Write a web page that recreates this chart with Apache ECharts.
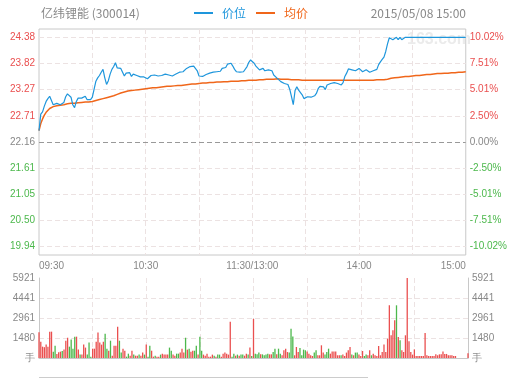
<!DOCTYPE html>
<html><head><meta charset="utf-8">
<script src="https://cdn.jsdelivr.net/npm/echarts@6/dist/echarts.min.js"></script>
<style>html,body{margin:0;padding:0;background:#fff}#c{width:510px;height:378px}</style>
</head><body><div id="c"></div>
<script>
const stockName = '亿纬锂能 (300014)';
const stamp = '2015/05/08 15:00';
const seriesNames = ['价位', '均价'];
const prevClose = 22.16;
const priceTicks = [19.94, 20.50, 21.05, 21.61, 22.16, 22.71, 23.27, 23.82, 24.38];
const priceTickLabels = ['19.94', '20.50', '21.05', '21.61', '22.16', '22.71', '23.27', '23.82', '24.38'];
const pctTickLabels = ['-10.02%', '-7.51%', '-5.01%', '-2.50%', '0.00%', '2.50%', '5.01%', '7.51%', '10.02%'];
const timeTickLabels = {0: '09:30', 60: '10:30', 120: '11:30/13:00', 180: '14:00', 240: '15:00'};
const volMax = 5921;

const price = [
22.40,22.75,22.80,22.92,23.02,23.08,23.13,23.14,22.95,22.93,
22.98,23.00,22.95,22.93,23.00,23.12,23.18,23.17,23.11,22.95,
22.89,23.02,23.09,23.08,23.09,23.11,23.13,23.06,23.10,23.06,
23.11,23.28,23.45,23.52,23.57,23.64,23.70,23.52,23.38,23.46,
23.60,23.70,23.76,23.84,23.73,23.72,23.72,23.71,23.56,23.62,
23.64,23.63,23.55,23.60,23.61,23.57,23.54,23.54,23.55,23.54,
23.54,23.50,23.47,23.57,23.59,23.58,23.57,23.56,23.56,23.57,
23.57,23.60,23.62,23.58,23.56,23.56,23.58,23.60,23.62,23.64,
23.67,23.65,23.69,23.72,23.75,23.76,23.79,23.77,23.74,23.67,
23.56,23.52,23.55,23.58,23.59,23.60,23.62,23.62,23.64,23.65,
23.65,23.65,23.66,23.72,23.73,23.74,23.81,23.83,23.83,23.77,
23.70,23.65,23.65,23.64,23.65,23.65,23.65,23.76,23.85,23.90,
23.88,23.83,23.77,23.74,23.69,23.71,23.72,23.67,23.68,23.69,
23.68,23.67,23.58,23.55,23.51,23.47,23.44,23.42,23.40,23.39,
23.38,23.28,23.12,22.95,23.25,23.33,23.26,23.22,23.16,23.08,
23.10,23.12,23.12,23.11,23.10,23.14,23.19,23.29,23.34,23.38,
23.33,23.27,23.37,23.38,23.40,23.41,23.42,23.44,23.40,23.37,
23.37,23.42,23.55,23.62,23.71,23.67,23.69,23.68,23.67,23.70,
23.72,23.68,23.65,23.67,23.69,23.66,23.64,23.66,23.67,23.65,
23.70,23.80,23.86,23.91,23.96,24.08,24.24,24.37,24.36,24.33,
24.36,24.38,24.33,24.38,24.33,24.37,24.38,24.38,24.38,24.38,
24.38,24.38,24.38,24.38,24.38,24.38,24.38,24.38,24.38,24.38,
24.38,24.38,24.38,24.38,24.38,24.38,24.38,24.38,24.38,24.38,
24.38,24.38,24.38,24.38,24.38,24.38,24.38,24.38,24.38,24.38,
24.38
];

const avgPrice = [
22.40,22.55,22.65,22.73,22.79,22.83,22.87,22.90,22.91,22.92,
22.93,22.94,22.94,22.95,22.95,22.96,22.97,22.97,22.98,22.98,
22.98,22.99,22.99,22.99,23.00,23.00,23.01,23.01,23.01,23.02,
23.02,23.03,23.04,23.05,23.06,23.07,23.08,23.09,23.10,23.11,
23.12,23.13,23.14,23.16,23.17,23.19,23.20,23.21,23.22,23.23,
23.24,23.24,23.25,23.25,23.26,23.26,23.27,23.27,23.28,23.28,
23.29,23.29,23.30,23.30,23.31,23.31,23.31,23.32,23.32,23.32,
23.33,23.33,23.34,23.34,23.34,23.35,23.35,23.35,23.36,23.36,
23.36,23.37,23.37,23.38,23.38,23.38,23.39,23.39,23.39,23.40,
23.40,23.40,23.41,23.41,23.41,23.41,23.42,23.42,23.42,23.42,
23.43,23.43,23.43,23.43,23.44,23.44,23.44,23.44,23.45,23.45,
23.45,23.45,23.45,23.46,23.46,23.46,23.46,23.46,23.47,23.47,
23.47,23.47,23.47,23.48,23.48,23.48,23.48,23.48,23.49,23.49,
23.49,23.49,23.49,23.49,23.50,23.50,23.49,23.49,23.49,23.49,
23.49,23.49,23.48,23.48,23.48,23.48,23.48,23.48,23.47,23.47,
23.47,23.47,23.47,23.47,23.47,23.47,23.47,23.47,23.47,23.47,
23.47,23.47,23.47,23.47,23.47,23.47,23.47,23.47,23.47,23.47,
23.47,23.47,23.47,23.47,23.47,23.47,23.47,23.47,23.47,23.47,
23.47,23.47,23.47,23.47,23.47,23.47,23.47,23.47,23.47,23.48,
23.48,23.48,23.48,23.48,23.48,23.49,23.49,23.50,23.51,23.51,
23.52,23.52,23.53,23.53,23.54,23.54,23.55,23.55,23.55,23.56,
23.56,23.56,23.57,23.57,23.57,23.58,23.58,23.58,23.59,23.59,
23.59,23.60,23.60,23.60,23.61,23.61,23.61,23.61,23.62,23.62,
23.62,23.62,23.63,23.63,23.63,23.63,23.64,23.64,23.64,23.64,
23.65
];

const volume = [
1900,1210,840,800,990,840,1950,1950,470,910,
300,420,470,520,620,1280,1500,840,1360,690,
1580,1580,620,250,250,990,770,250,1140,100,
690,690,1210,1880,1140,990,1210,1800,690,540,
1280,170,910,910,2320,1280,400,690,540,100,
320,170,540,250,170,170,250,170,400,250,
990,100,910,540,100,170,100,100,250,320,
250,250,250,770,540,250,170,320,320,400,
690,400,1500,620,690,470,540,540,910,250,
1580,540,250,170,320,100,100,250,170,100,
250,250,100,320,400,320,250,2690,100,320,
170,250,170,250,250,170,320,250,770,150,
2900,
320,270,400,270,270,200,250,320,270,270,
440,690,270,690,320,200,570,690,440,400,
2170,1600,200,815,440,740,200,620,570,490,
320,200,150,400,570,200,200,940,400,250,
440,690,320,490,490,490,200,200,200,250,
150,400,570,815,250,200,400,400,250,150,
520,150,250,200,570,200,320,200,150,890,
200,440,990,440,1430,3900,1680,2050,2790,3900,
1560,1310,570,440,1680,5921,1235,440,250,640,
150,150,150,150,150,1850,200,150,150,150,
150,270,200,270,270,490,300,300,200,200,
200,150,150,0,0,0,0,0,0,350
];

const volUp = [
1,1,1,1,1,1,1,1,0,0,
1,1,1,0,1,1,1,0,0,0,
0,1,1,0,1,1,1,0,0,0,
1,1,1,1,1,1,1,0,0,1,
0,1,1,1,1,0,0,1,1,0,
0,1,1,0,1,1,0,1,1,0,
1,0,0,1,1,0,1,1,0,1,
1,1,1,0,0,1,1,0,0,1,
1,1,0,1,0,1,1,0,0,1,
0,0,1,1,1,1,1,1,0,1,
0,0,1,1,1,1,1,1,0,0,
1,0,1,0,0,1,1,0,1,0,
1,
0,0,0,1,0,0,0,0,1,1,
0,0,1,0,0,1,1,1,1,0,
0,0,1,1,1,0,0,0,0,1,
1,1,1,0,0,1,1,1,1,0,
0,0,1,1,1,1,1,1,0,1,
1,1,1,1,0,1,0,0,1,1,
1,0,0,1,1,0,1,1,1,1,
1,1,1,1,1,1,1,1,1,0,
1,0,1,1,1,1,1,1,1,1,
1,1,1,1,1,1,1,1,1,1,
1,1,1,1,1,1,1,1,1,1,
1,1,1,1,1,1,1,1,1,1
];

// time categories: 09:30-11:30 and 13:01-15:00
function hm(m) { const h = Math.floor(m / 60), mm = m % 60; return (h < 10 ? '0' : '') + h + ':' + (mm < 10 ? '0' : '') + mm; }
const times = [];
for (let m = 570; m <= 690; m++) times.push(hm(m));
for (let m = 781; m <= 900; m++) times.push(hm(m));

const RED = '#ea4f4f', GREEN = '#4cb84c', GRAY = '#888';
const BLUE = '#1e96dc', ORANGE = '#f0661a';
const GRIDLINE = '#ece2e2';
const FONT = 'Liberation Sans, Arial, sans-serif';

function tickIdx(v) { for (let i = 0; i < priceTicks.length; i++) if (Math.abs(v - priceTicks[i]) < 0.002) return i; return -1; }
function tickColor(v) { return v > prevClose + 0.01 ? RED : (v < prevClose - 0.01 ? GREEN : GRAY); }

const yMin = 19.764, yMax = 24.556;
const volSplit = [volMax / 4, volMax / 2, volMax * 3 / 4];
const volLabels = [0, volMax / 4, volMax / 2, volMax * 3 / 4, volMax];
const vSplit = (i) => i % 30 === 0 && i > 0 && i < times.length - 1;

const chart = echarts.init(document.getElementById('c'), null, {renderer: 'canvas'});
chart.setOption({
  animation: false,
  textStyle: {fontFamily: FONT},
  title: [
    {text: stockName, left: 41, top: 7, padding: 0, textStyle: {fontSize: 12, fontWeight: 'normal', color: GRAY, fontFamily: 'Noto Sans CJK SC'}},
    {text: stamp, right: 44, top: 7, padding: 0, textStyle: {fontSize: 12, fontWeight: 'normal', color: GRAY, fontFamily: 'Noto Sans CJK SC'}}
  ],
  legend: {
    left: 194, top: 7, padding: 0, itemGap: 10, icon: 'rect', itemWidth: 19, itemHeight: 2,
    textStyle: {fontSize: 12, fontFamily: 'Noto Sans CJK SC', padding: [0, 0, 0, 4]},
    data: [
      {name: seriesNames[0], textStyle: {color: BLUE}},
      {name: seriesNames[1], textStyle: {color: ORANGE}}
    ]
  },
  graphic: [
    {type: 'text', left: 407, top: 32, z: 0, style: {text: '163.com', fill: '#ebebeb', font: 'bold 16px Liberation Sans, Arial'}},
    {type: 'line', z: 0, shape: {x1: 39, y1: 377.5, x2: 368, y2: 377.5}, style: {stroke: '#cccccc', lineWidth: 1}}
  ],
  grid: [
    {left: 39, top: 29, width: 429, height: 226, show: true, borderColor: '#c8c8c8', borderWidth: 1, backgroundColor: 'transparent'},
    {left: 39, top: 278, width: 429, height: 80, show: false}
  ],
  xAxis: [
    {type: 'category', gridIndex: 0, data: times, boundaryGap: false,
      axisLine: {show: false}, axisTick: {show: false},
      axisLabel: {interval: (i) => timeTickLabels[i] !== undefined, formatter: (v, i) => timeTickLabels[i] || '',
        color: GRAY, fontSize: 10, margin: 6, alignMinLabel: 'left', alignMaxLabel: 'right', showMinLabel: true, showMaxLabel: true},
      splitLine: {show: true, interval: vSplit, lineStyle: {color: GRIDLINE, type: [5, 3], width: 1}}},
    {type: 'category', gridIndex: 1, data: times, boundaryGap: false,
      axisLine: {show: false}, axisTick: {show: false}, axisLabel: {show: false},
      splitLine: {show: true, interval: vSplit, lineStyle: {color: GRIDLINE, type: [5, 3], width: 1}}},
    {type: 'category', gridIndex: 1, data: times, boundaryGap: false, position: 'top',
      axisLine: {show: true, lineStyle: {color: '#c8c8c8', width: 1}}, axisTick: {show: false}, axisLabel: {show: false}, splitLine: {show: false}}
  ],
  yAxis: [
    {type: 'value', gridIndex: 0, min: yMin, max: yMax, position: 'left',
      axisLine: {show: false}, axisTick: {show: false, customValues: priceTicks},
      axisLabel: {customValues: priceTicks, formatter: (v) => priceTickLabels[tickIdx(v)], color: (v) => tickColor(+v), fontSize: 10, margin: 4},
      splitLine: {show: true, lineStyle: {color: GRIDLINE, type: [5, 3], width: 1}}},
    {type: 'value', gridIndex: 0, min: yMin, max: yMax, position: 'right',
      axisLine: {show: false}, axisTick: {show: false, customValues: priceTicks},
      axisLabel: {customValues: priceTicks, formatter: (v) => pctTickLabels[tickIdx(v)], color: (v) => tickColor(+v), fontSize: 10, margin: 4},
      splitLine: {show: false}},
    {type: 'value', gridIndex: 1, min: 0, max: volMax, position: 'left',
      axisLine: {show: true, lineStyle: {color: '#c8c8c8', width: 1}}, axisTick: {show: false, customValues: volSplit},
      axisLabel: {customValues: volLabels, formatter: (v) => v === 0 ? '手' : String(Math.round(v)), color: GRAY, fontSize: 10, margin: 4},
      splitLine: {show: true, lineStyle: {color: GRIDLINE, type: [5, 3], width: 1}}},
    {type: 'value', gridIndex: 1, min: 0, max: volMax, position: 'right',
      axisLine: {show: true, lineStyle: {color: '#c8c8c8', width: 1}}, axisTick: {show: false, customValues: volSplit},
      axisLabel: {customValues: volLabels, formatter: (v) => v === 0 ? '手' : String(Math.round(v)), color: GRAY, fontSize: 10, margin: 4},
      splitLine: {show: false}}
  ],
  series: [
    {name: seriesNames[0], type: 'line', xAxisIndex: 0, yAxisIndex: 0, data: price, showSymbol: false, symbol: 'none',
      lineStyle: {color: BLUE, width: 1.2}, itemStyle: {color: BLUE}, z: 4,
      markLine: {silent: true, symbol: ['none', 'none'], label: {show: false},
        lineStyle: {color: '#999', type: [5, 3], width: 1}, data: [{yAxis: prevClose}]}},
    {name: seriesNames[1], type: 'line', xAxisIndex: 0, yAxisIndex: 0, data: avgPrice, showSymbol: false, symbol: 'none',
      lineStyle: {color: ORANGE, width: 1.5}, itemStyle: {color: ORANGE}, z: 3},
    {type: 'bar', xAxisIndex: 1, yAxisIndex: 2, barWidth: 1.3,
      data: volume.map((v, i) => ({value: v, itemStyle: {color: volUp[i] ? RED : GREEN}}))}
  ]
});
</script>
</body></html>
